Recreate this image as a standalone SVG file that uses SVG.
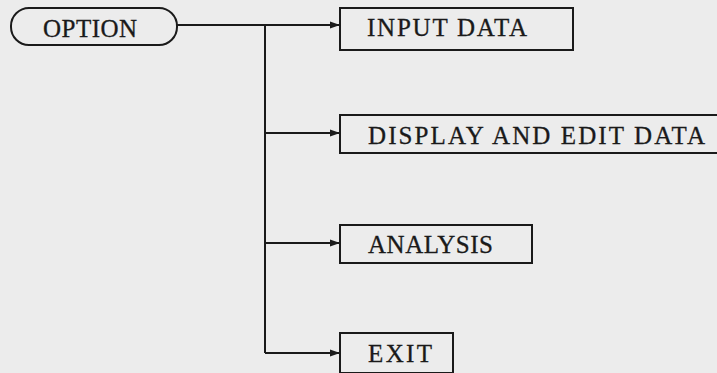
<svg xmlns="http://www.w3.org/2000/svg" width="717" height="373" viewBox="0 0 717 373">
<defs>
<marker id="ah" markerWidth="12" markerHeight="10" refX="10" refY="5" orient="auto" markerUnits="userSpaceOnUse">
<path d="M0,1.5 L10,5 L0,8.5 Z" fill="#1a1a1a"/>
</marker>
<style>
.box{fill:none;stroke:#1a1a1a;stroke-width:2}
.lbl{font-family:"Liberation Serif","Times New Roman",serif;font-size:25px;fill:#1a1a1a;stroke:#1a1a1a;stroke-width:0.3}
.con{fill:none;stroke:#1a1a1a;stroke-width:2}
</style>
</defs>
<rect width="717" height="373" fill="#ececec"/>
<g id="option">
<rect class="box" x="11" y="8" width="166" height="37" rx="18" ry="18"/>
<text class="lbl" x="43" y="37" textLength="94" lengthAdjust="spacing">OPTION</text>
</g>
<g id="input">
<rect class="box" x="340" y="8" width="233" height="42"/>
<text class="lbl" x="367" y="36" textLength="160" lengthAdjust="spacing">INPUT DATA</text>
</g>
<g id="display">
<rect class="box" x="340" y="115" width="390" height="38"/>
<text class="lbl" x="368" y="144" textLength="337" lengthAdjust="spacing">DISPLAY AND EDIT DATA</text>
</g>
<g id="analysis">
<rect class="box" x="340" y="225" width="192" height="38"/>
<text class="lbl" x="368" y="253" textLength="125" lengthAdjust="spacing">ANALYSIS</text>
</g>
<g id="exit">
<rect class="box" x="340" y="333" width="113" height="40"/>
<text class="lbl" x="368" y="362" textLength="64" lengthAdjust="spacing">EXIT</text>
</g>
<g id="connectors">
<path class="con" d="M177,25 H340" marker-end="url(#ah)"/>
<path class="con" d="M265,25 V353"/>
<path class="con" d="M265,133 H340" marker-end="url(#ah)"/>
<path class="con" d="M265,243 H340" marker-end="url(#ah)"/>
<path class="con" d="M265,353 H340" marker-end="url(#ah)"/>
</g>
</svg>
